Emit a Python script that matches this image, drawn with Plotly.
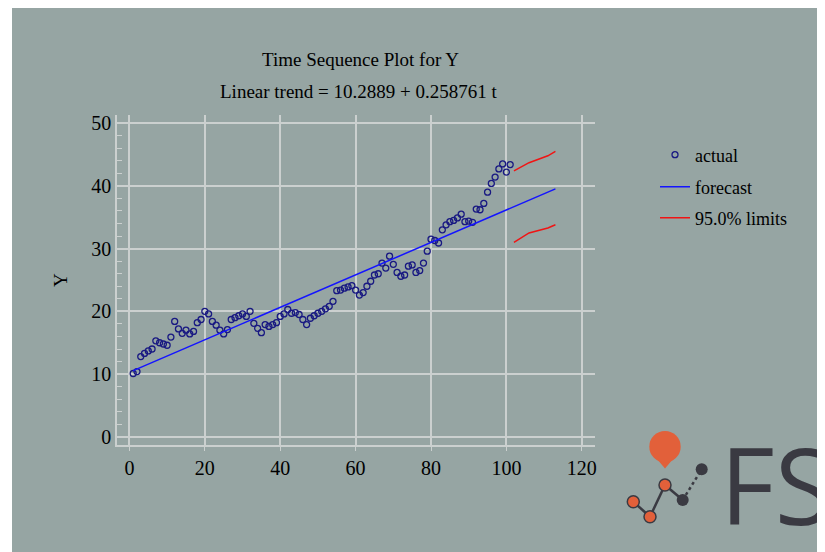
import plotly.graph_objects as go

# ---- data ----
t_actual = list(range(1, 102))
y_actual = [10.1, 10.4, 12.8, 13.3, 13.7, 14.0, 15.3, 15.0, 14.8, 14.6,
            15.9, 18.4, 17.2, 16.5, 17.0, 16.4, 16.8, 18.2, 18.7, 20.0,
            19.6, 18.4, 17.8, 17.0, 16.4, 17.1, 18.7, 19.0, 19.3, 19.6,
            19.2, 20.0, 18.1, 17.3, 16.6, 17.9, 17.6, 17.9, 18.2, 19.2,
            19.6, 20.3, 19.7, 19.8, 19.5, 18.7, 17.9, 18.9, 19.3, 19.7,
            20.0, 20.4, 20.8, 21.6, 23.3, 23.4, 23.7, 23.9, 24.1, 23.4,
            22.6, 23.0, 24.0, 24.8, 25.8, 26.0, 27.7, 26.9, 28.8, 27.5,
            26.2, 25.6, 25.8, 27.2, 27.4, 26.2, 26.5, 27.7, 29.6, 31.5,
            31.3, 30.9, 33.0, 33.8, 34.3, 34.5, 34.9, 35.5, 34.3, 34.4,
            34.2, 36.3, 36.2, 37.2, 39.0, 40.4, 41.4, 42.7, 43.5, 42.2,
            43.4]
forecast_t = [1, 113]
forecast_y = [10.55, 39.53]
limits_t = [102, 106, 111, 113]
upper_y = [42.4, 43.7, 44.8, 45.5]
lower_y = [31.0, 32.5, 33.3, 33.8]

x_ticks = [0, 20, 40, 60, 80, 100, 120]
y_ticks = [0, 10, 20, 30, 40, 50]

BG = "rgb(150,165,163)"
GRID = "rgb(203,208,207)"
FONT = "Liberation Serif"

fig = go.Figure()
fig.add_trace(go.Scatter(x=t_actual, y=y_actual, mode="markers", name="actual",
                         marker=dict(symbol="circle-open", size=6, color="rgb(25,25,130)",
                                     line=dict(width=1.3, color="rgb(25,25,130)")),
                         legend="legend"))
fig.add_trace(go.Scatter(x=forecast_t, y=forecast_y, mode="lines", name="forecast",
                         line=dict(color="rgb(20,20,255)", width=1.5), legend="legend2"))
fig.add_trace(go.Scatter(x=limits_t, y=upper_y, mode="lines", name="95.0% limits",
                         line=dict(color="rgb(240,20,20)", width=1.5), legend="legend3"))
fig.add_trace(go.Scatter(x=limits_t, y=lower_y, mode="lines", name="95.0% limits",
                         line=dict(color="rgb(240,20,20)", width=1.5), showlegend=False))

OFF = 8  # page body margin
W, H = 825 - OFF, 552 - OFF
L, T = 117 - OFF, 115 - OFF
R, B = W - (595 - OFF), H - (445 - OFF)
pw, ph = W - L - R, H - T - B


def px_x(p):  # page pixel -> paper x
    return (p - OFF - L) / pw


def px_y(p):  # page pixel -> paper y
    return (H - B - (p - OFF)) / ph


leg_font = dict(family=FONT, size=18, color="black")
leg_common = dict(font=leg_font, bgcolor="rgba(0,0,0,0)", xanchor="left", yanchor="middle",
                  itemwidth=30, borderwidth=0)

shapes = [
    dict(type="rect", xref="paper", yref="paper", x0=px_x(12), x1=px_x(830),
         y0=px_y(560), y1=px_y(7), fillcolor=BG, line=dict(width=0), layer="below"),
]

DARK = "rgb(58,58,66)"
ORANGE = "rgb(226,96,58)"
logo_pts_orange = [(633.3, 501.7), (650, 516.7), (665, 485)]
logo_pts_dark = [(682.7, 500), (701.7, 469.3)]
seg = [(633.3, 501.7), (650, 516.7), (665, 485), (682.7, 500)]
for (a, b), (c, d) in zip(seg[:-1], seg[1:]):
    shapes.append(dict(type="line", xref="paper", yref="paper", x0=px_x(a), y0=px_y(b),
                       x1=px_x(c), y1=px_y(d), line=dict(color=DARK, width=2.5)))
shapes.append(dict(type="line", xref="paper", yref="paper", x0=px_x(682.7), y0=px_y(500),
                   x1=px_x(701.7), y1=px_y(469.3), line=dict(color=DARK, width=2.5, dash="dot")))
shapes.append(dict(type="path", xref="paper", yref="paper",
                   path=f"M {px_x(651)},{px_y(452)} L {px_x(665)},{px_y(468.5)} L {px_x(679)},{px_y(452)} Z",
                   fillcolor=ORANGE, line=dict(width=0)))
shapes.append(dict(type="circle", xref="paper", yref="paper", x0=px_x(649.3), x1=px_x(680.7),
                   y0=px_y(462.4), y1=px_y(431), fillcolor=ORANGE, line=dict(width=0)))
for (cx, cy) in logo_pts_orange:
    shapes.append(dict(type="circle", xref="paper", yref="paper", x0=px_x(cx - 6), x1=px_x(cx + 6),
                       y0=px_y(cy + 6), y1=px_y(cy - 6), fillcolor=ORANGE,
                       line=dict(color=DARK, width=1.5)))
for (cx, cy) in logo_pts_dark:
    shapes.append(dict(type="circle", xref="paper", yref="paper", x0=px_x(cx - 6), x1=px_x(cx + 6),
                       y0=px_y(cy + 6), y1=px_y(cy - 6), fillcolor=DARK, line=dict(width=0)))

annotations = [
    dict(text="Time Sequence Plot for Y", xref="paper", yref="paper", x=px_x(360), y=px_y(60),
         showarrow=False, font=dict(family=FONT, size=19, color="black"),
         xanchor="center", yanchor="middle"),
    dict(text="Linear trend = 10.2889 + 0.258761 t", xref="paper", yref="paper", x=px_x(359),
         y=px_y(91), showarrow=False, font=dict(family=FONT, size=19, color="black"),
         xanchor="center", yanchor="middle"),
    dict(text="FS", xref="paper", yref="paper", x=px_x(718), y=px_y(484), showarrow=False,
         font=dict(family="Open Sans", size=106, color=DARK), xanchor="left", yanchor="middle"),
]

fig.update_layout(
    width=W, height=H,
    margin=dict(l=L, r=R, t=T, b=B, pad=0),
    paper_bgcolor="white",
    plot_bgcolor=BG,
    font=dict(family=FONT, size=18, color="black"),
    showlegend=True,
    legend=dict(x=px_x(655), y=px_y(155), **leg_common),
    legend2=dict(x=px_x(655), y=px_y(187), **leg_common),
    legend3=dict(x=px_x(655), y=px_y(218), **leg_common),
    shapes=shapes,
    annotations=annotations,
    xaxis=dict(range=[-3.3, 123.5], tickvals=x_ticks, ticktext=[str(v) for v in x_ticks],
               showgrid=True, gridcolor=GRID, gridwidth=1.5, zeroline=False,
               showline=True, linecolor=GRID, linewidth=1.5,
               ticks="outside", ticklen=4, tickcolor=GRID,
               tickfont=dict(family=FONT, size=20, color="black")),
    yaxis=dict(range=[-1.3, 51.3], tickvals=y_ticks, ticktext=[str(v) for v in y_ticks],
               showgrid=True, gridcolor=GRID, gridwidth=1.5, zeroline=False,
               showline=True, linecolor=GRID, linewidth=1.5,
               ticks="inside", ticklen=6, tickcolor=GRID,
               minor=dict(dtick=2, ticks="inside", ticklen=5, tickcolor=GRID, showgrid=False),
               title=dict(text="Y", font=dict(family=FONT, size=19, color="black"), standoff=19),
               tickfont=dict(family=FONT, size=20, color="black")),
)

fig.write_html("out.html")
